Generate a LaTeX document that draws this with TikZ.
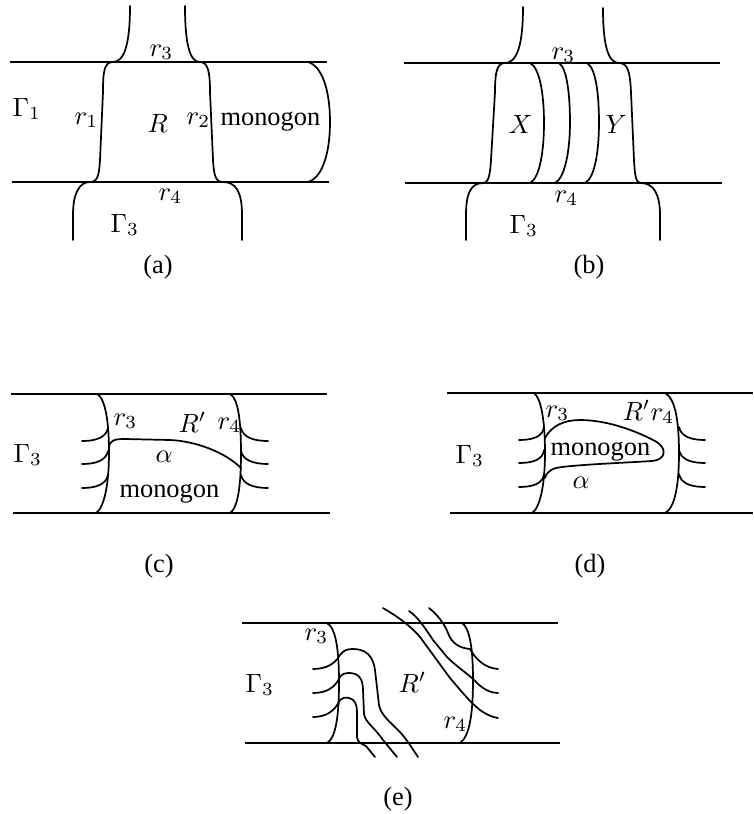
\documentclass[tikz,border=0pt]{standalone}
\usepackage{fontspec}
\setmainfont{Liberation Serif}
\usepackage{tikz}
\tikzset{
  bord/.style={line width=0.7pt},
  brin/.style={line width=0.65pt, line cap=round},
  lab/.style={inner sep=0pt, anchor=base west},
  legende/.style={inner sep=0pt, anchor=base},
}

\begin{document}
\begin{tikzpicture}[x=0.0133cm, y=-0.0133cm]
    \useasboundingbox (0,0) rectangle (754,814);
    % Panneau (a)
    \draw[bord] (10,62) -- (327,62);
    \draw[bord] (12,182) -- (329,182);
    \draw[brin] (130,6) .. controls (130,45) and (124,62) .. (113,62)
      .. controls (104,62) and (103,72) .. (103,92) -- (100,160)
      .. controls (99,177) and (97,182) .. (90,182)
      .. controls (80,182) and (73,192) .. (73,215) -- (73,240);
    \draw[brin] (185,6) .. controls (185,45) and (190,62) .. (200,62)
      .. controls (208,62) and (210,72) .. (210,92) -- (213,160)
      .. controls (214,177) and (216,182) .. (223,182)
      .. controls (236,182) and (242,192) .. (242,215) -- (242,240);
    \draw[brin] (308,62) .. controls (322,66) and (330,90) .. (330,122)
      .. controls (330,154) and (322,178) .. (308,182);
    \node[lab] (gamA) at (12,116) {$\Gamma_1$};
    \node[lab] (rA1) at (74,124) {$r_1$};
    \node[lab] (regA) at (147,132) {$R$};
    \node[lab] (rA2) at (186,124) {$r_2$};
    \node[lab] (monA) at (220,125) {monogon};
    \node[lab] (rA3) at (149,56) {$r_3$};
    \node[lab] (rA4) at (158,200) {$r_4$};
    \node[lab] (gamA3) at (110,232) {$\Gamma_3$};
    \node[legende] (capA) at (158,273) {(a)};
    % Panneau (b)
    \draw[bord] (404,63) -- (720,63);
    \draw[bord] (405,183) -- (722,183);
    \draw[brin] (523,7) .. controls (523,45) and (517,63) .. (505,63)
      .. controls (497,63) and (495,72) .. (495,92) -- (491,160)
      .. controls (490,177) and (488,183) .. (483,183)
      .. controls (470,183) and (466,195) .. (466,215) -- (466,240);
    \draw[brin] (603,8) .. controls (603,45) and (608,63) .. (619,63)
      .. controls (628,63) and (630,72) .. (631,92) -- (634,160)
      .. controls (635,177) and (636,183) .. (641,183)
      .. controls (654,183) and (660,195) .. (660,215) -- (660,240);
    \draw[brin] (530,63) .. controls (540,68) and (544,95) .. (544,123)
      .. controls (544,150) and (540,178) .. (530,183);
    \draw[brin] (559,63) .. controls (567,68) and (570,95) .. (570,123)
      .. controls (570,150) and (565,178) .. (555,183);
    \draw[brin] (587,63) .. controls (596,68) and (599,95) .. (599,123)
      .. controls (599,150) and (595,178) .. (585,183);
    \node[lab] (rB3) at (551,59) {$r_3$};
    \node[lab] (regX) at (508,133) {$X$};
    \node[lab] (regY) at (605,133) {$Y$};
    \node[lab] (rB4) at (554,202) {$r_4$};
    \node[lab] (gamB3) at (509,233) {$\Gamma_3$};
    \node[legende] (capB) at (589,273) {(b)};
    % Panneau (c)
    \draw[bord] (11,394) -- (327,394);
    \draw[bord] (13,513) -- (330,513);
    \draw[brin] (97,394) .. controls (105,398) and (109,420) .. (109,453)
      .. controls (109,485) and (104,508) .. (96,513);
    \draw[brin] (230,394) .. controls (238,398) and (241,420) .. (241,453)
      .. controls (241,485) and (238,508) .. (230,513);
    \foreach \yy in {441,464,488} {
      \draw[brin] (82,\yy) .. controls (97,\yy) and (106,\yy-4) .. (108,\yy-13);
      \draw[brin] (241,\yy-13) .. controls (243,\yy-4) and (253,\yy) .. (268,\yy);
    }
    \draw[brin] (109,447) .. controls (110,440) and (115,439) .. (125,439) -- (170,440)
      .. controls (195,441) and (225,452) .. (241,468);
    \node[lab] (rC3) at (113,425) {$r_3$};
    \node[lab] (regC) at (178,432) {$R'$};
    \node[lab] (rC4) at (217,429) {$r_4$};
    \node[lab] (gamC) at (13,462) {$\Gamma_3$};
    \node[lab] (alC) at (155,462) {$\alpha$};
    \node[lab] (monC) at (119,497) {monogon};
    \node[legende] (capC) at (159,572) {(c)};
    % Panneau (d)
    \draw[bord] (447,393) -- (753,393);
    \draw[bord] (450,513) -- (753,513);
    \draw[brin] (534,393) .. controls (541,398) and (545,420) .. (545,453)
      .. controls (545,485) and (540,508) .. (532,513);
    \draw[brin] (665,393) .. controls (675,398) and (679,420) .. (679,453)
      .. controls (679,485) and (675,508) .. (665,513);
    \foreach \yy in {440,463,487} {
      \draw[brin] (519,\yy) .. controls (534,\yy) and (543,\yy-4) .. (544,\yy-13);
      \draw[brin] (679,\yy-13) .. controls (681,\yy-4) and (690,\yy) .. (705,\yy);
    }
    \draw[brin] (545,438) .. controls (552,425) and (565,420) .. (580,420)
      .. controls (610,420) and (640,433) .. (655,441)
      .. controls (668,448) and (666,460) .. (652,461)
      .. controls (620,463) and (570,465) .. (556,468)
      .. controls (549,470) and (546,474) .. (545,478);
    \node[lab] (rD3) at (545,417) {$r_3$};
    \node[lab] (regD) at (622,420) {$R'$};
    \node[lab] (rD4) at (650,420) {$r_4$};
    \node[lab] (gamD) at (455,463) {$\Gamma_3$};
    \node[lab] (monD) at (550,455) {monogon};
    \node[lab] (alD) at (572,488) {$\alpha$};
    \node[legende] (capD) at (590,572) {(d)};
    % Panneau (e)
    \draw[bord] (242,623) -- (558,623);
    \draw[bord] (245,743) -- (560,743);
    \draw[brin] (327,623) .. controls (336,628) and (339,650) .. (339,683)
      .. controls (339,715) and (336,738) .. (327,743);
    \draw[brin] (462,623) .. controls (470,628) and (473,650) .. (473,680)
      .. controls (473,712) and (470,736) .. (460,743);
    % brins de gauche
    \draw[brin] (313,669) .. controls (326,669) and (335,664) .. (340,655)
      .. controls (344,650) and (347,649) .. (353,649)
      .. controls (365,649) and (373,655) .. (375,670) -- (379,705)
      .. controls (381,715) and (390,722) .. (398,730)
      .. controls (405,737) and (410,745) .. (418,757);
    \draw[brin] (313,693) .. controls (326,693) and (335,688) .. (340,677)
      .. controls (342,674) and (345,673) .. (349,673)
      .. controls (358,673) and (363,678) .. (363,690) -- (364,714)
      .. controls (365,722) and (375,728) .. (383,740) -- (397,757);
    \draw[brin] (313,717) .. controls (326,717) and (335,711) .. (340,700)
      .. controls (342,698) and (345,697) .. (349,698)
      .. controls (355,699) and (357,705) .. (357,712) -- (357,737)
      .. controls (357,742) and (362,744) .. (366,746) -- (375,757);
    % brins de droite
    \draw[brin] (383,608) .. controls (395,615) and (410,625) .. (420,637) -- (450,678)
      .. controls (462,692) and (470,702) .. (480,710)
      .. controls (487,715) and (492,717) .. (498,718);
    \draw[brin] (409,611) .. controls (418,617) and (425,628) .. (433,640) -- (447,657)
      .. controls (458,668) and (470,675) .. (478,684)
      .. controls (485,690) and (491,693) .. (498,693);
    \draw[brin] (429,608) .. controls (438,615) and (445,625) .. (448,633)
      .. controls (452,644) and (460,648) .. (470,649)
      .. controls (475,658) and (484,668) .. (498,669);
    \node[lab] (rE3) at (304,640) {$r_3$};
    \node[lab] (gamE) at (245,692) {$\Gamma_3$};
    \node[lab] (regE) at (398,692) {$R'$};
    \node[lab] (rE4) at (443,728) {$r_4$};
    \node[legende] (capE) at (398,805) {(e)};
  \end{tikzpicture}
\end{document}
